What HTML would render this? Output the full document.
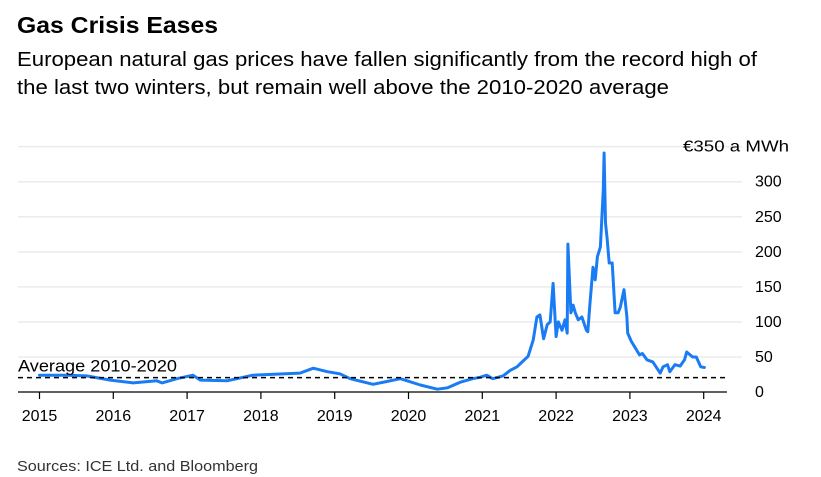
<!DOCTYPE html>
<html><head><meta charset="utf-8"><style>
body{margin:0;background:#fff;font-family:"Liberation Sans",Arial,sans-serif;}
svg{display:block}
</style></head><body>
<svg width="821" height="477" xmlns="http://www.w3.org/2000/svg" id="chart">
<text x="17" y="33" font-size="23" font-weight="bold" fill="#000" textLength="201" lengthAdjust="spacingAndGlyphs">Gas Crisis Eases</text>
<text x="17" y="66" font-size="20" fill="#000" textLength="740" lengthAdjust="spacingAndGlyphs">European natural gas prices have fallen significantly from the record high of</text>
<text x="17" y="94" font-size="20" fill="#000" textLength="652" lengthAdjust="spacingAndGlyphs">the last two winters, but remain well above the 2010-2020 average</text>
<text x="17" y="471" font-size="14.5" fill="#333" textLength="241" lengthAdjust="spacingAndGlyphs">Sources: ICE Ltd. and Bloomberg</text>
<g id="grid"></g><g id="axes"></g><g id="series"></g>
</svg>
<script>
const yTicks=[0,50,100,150,200,250,300,350];
const xYears=[2015,2016,2017,2018,2019,2020,2021,2022,2023,2024];
const average=20.5;
const dates=[2015.0,2015.37,2015.64,2015.96,2016.27,2016.59,2016.66,2016.86,2017.08,2017.18,2017.54,2017.89,2018.53,2018.71,2018.90,2019.07,2019.21,2019.52,2019.89,2020.16,2020.39,2020.53,2020.70,2020.87,2020.97,2021.06,2021.14,2021.28,2021.38,2021.47,2021.54,2021.62,2021.69,2021.74,2021.78,2021.83,2021.88,2021.92,2021.96,2022.00,2022.03,2022.08,2022.12,2022.15,2022.16,2022.20,2022.23,2022.26,2022.30,2022.35,2022.41,2022.43,2022.46,2022.50,2022.53,2022.56,2022.60,2022.64,2022.65,2022.67,2022.69,2022.72,2022.76,2022.80,2022.84,2022.87,2022.92,2022.96,2022.97,2023.02,2023.09,2023.13,2023.17,2023.23,2023.31,2023.41,2023.45,2023.51,2023.54,2023.61,2023.68,2023.74,2023.77,2023.85,2023.90,2023.96,2024.01];
const prices=[24,24,23,17,13,16,13,19,24,17,16,24,27,34,29,26,19,11,19,10,4,6,14,19,21,24,19,23,31,36,43,51,74,107,110,76,96,100,155,79,100,88,103,84,211,113,124,113,103,107,88,86,127,178,160,193,207,289,341,241,221,184,184,113,113,121,146,107,84,72,60,53,55,46,43,27,36,39,29,39,37,46,57,50,50,36,35];
const NS="http://www.w3.org/2000/svg";
const xS=d=>39.5+(d-2015)*73.8;
const yS=v=>392-v*0.7009;
function mk(t,a,p){const e=document.createElementNS(NS,t);for(const k in a)e.setAttribute(k,a[k]);p.appendChild(e);return e;}
const grid=document.getElementById('grid'),axes=document.getElementById('axes'),ser=document.getElementById('series');
yTicks.forEach(v=>{
 if(v>0){const l=mk('line',{x1:18,x2:742,y1:yS(v),y2:yS(v),stroke:'#ebebeb','stroke-width':1.5},grid);
 
 }
 const t=mk('text',{x:v===350?789:755,y:yS(v)+5,'font-size':16,fill:'#000','text-anchor':v===350?'end':'start'},axes);
 t.textContent=v===350?'€350 a MWh':String(v);
 if(v===350){t.setAttribute('textLength','106');t.setAttribute('lengthAdjust','spacingAndGlyphs');}
 
 
});
const base=mk('line',{x1:18,x2:727,y1:392,y2:392,stroke:'#000','stroke-width':1.3},axes);


xYears.forEach(y=>{
 const tk=mk('line',{x1:xS(y),x2:xS(y),y1:392,y2:399,stroke:'#000','stroke-width':1.2},axes);
 
 
 const t=mk('text',{x:xS(y),y:421,'font-size':16,fill:'#000','text-anchor':'middle'},axes);
 t.textContent=String(y);
 
 
});
let d='';dates.forEach((t,i)=>{d+=(i?'L':'M')+xS(t).toFixed(1)+','+yS(prices[i]).toFixed(1);});
const p=mk('path',{d:d,fill:'none',stroke:'#1a7cf5','stroke-width':3,'stroke-linejoin':'round','stroke-linecap':'round'},ser);


const av=mk('line',{x1:18,x2:727,y1:yS(average),y2:yS(average),stroke:'#000','stroke-width':1.5,'stroke-dasharray':'5,4'},ser);


const at=mk('text',{x:18,y:yS(average)-6,'font-size':16.5,fill:'#000',textLength:159,lengthAdjust:'spacingAndGlyphs'},ser);
at.textContent='Average 2010-2020';


</script>
</body></html>
